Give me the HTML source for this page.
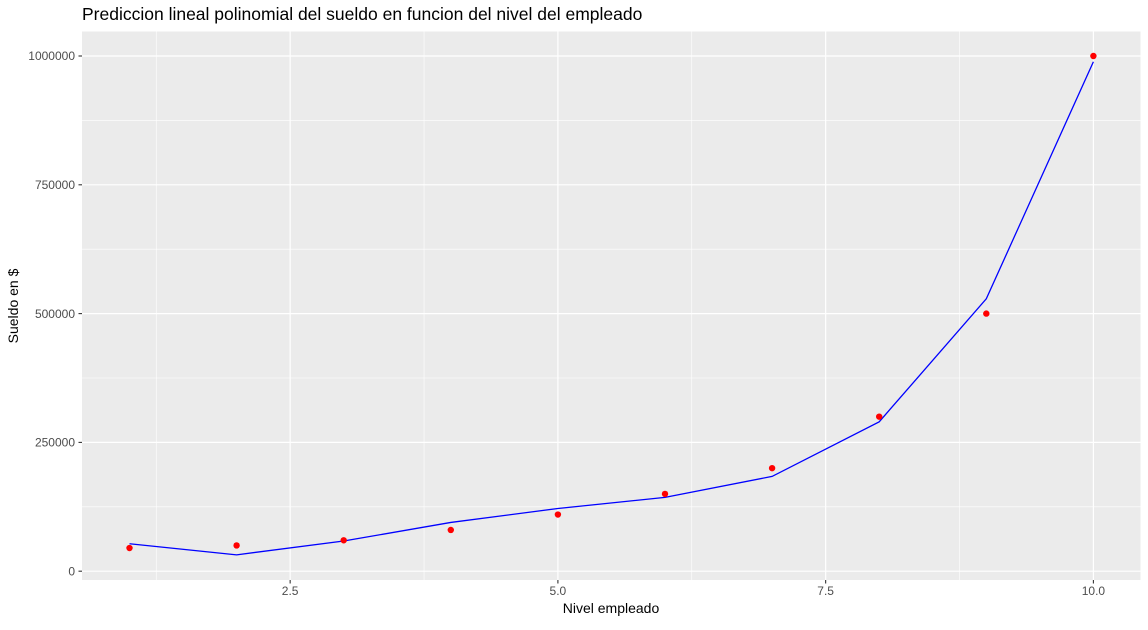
<!DOCTYPE html>
<html><head><meta charset="utf-8"><style>
body{margin:0;background:#fff;width:1148px;height:625px;overflow:hidden;font-family:"Liberation Sans",sans-serif}
</style></head><body>
<svg id="chart" width="1148" height="625" xmlns="http://www.w3.org/2000/svg">
<text x="82" y="20" font-size="17.5" fill="#000">Prediccion lineal polinomial del sueldo en funcion del nivel del empleado</text>
<rect x="82" y="31.5" width="1058.5" height="548.5" fill="#ebebeb"/>
<g id="grid"></g>
<g id="axes"></g>
<g id="marks"></g>
<text x="611" y="613" font-size="14" text-anchor="middle" fill="#000">Nivel empleado</text>
<text transform="translate(18,306) rotate(-90)" font-size="14" text-anchor="middle" fill="#000">Sueldo en $</text>
</svg>
<script>
const levels=[1,2,3,4,5,6,7,8,9,10];
const salaries=[45000,50000,60000,80000,110000,150000,200000,300000,500000,1000000];
const predicted=[53356,31759,58642,94632,121724,143275,184003,289994,528694,988916];
const xTicks=[2.5,5.0,7.5,10.0];
const xTickLabels=["2.5","5.0","7.5","10.0"];
const yTicks=[0,250000,500000,750000,1000000];
const yTickLabels=["0","250000","500000","750000","1000000"];
const ns="http://www.w3.org/2000/svg";
function X(v){return 129.5+(v-1)*107.1;}
function Y(v){return 571.2-v*0.0005152;}
function mk(t,a,p){const e=document.createElementNS(ns,t);for(const k in a)e.setAttribute(k,a[k]);p.appendChild(e);return e;}
const grid=document.getElementById('grid'),axes=document.getElementById('axes'),marks=document.getElementById('marks');
for(let i=0;i<xTicks.length;i++){const m=xTicks[i]-1.25;const l=mk('line',{x1:X(m),x2:X(m),y1:31.5,y2:580,stroke:'#fff','stroke-width':0.6},grid);
}
for(let i=0;i<yTicks.length-1;i++){const m=yTicks[i]+125000;const l=mk('line',{x1:82,x2:1140.5,y1:Y(m),y2:Y(m),stroke:'#fff','stroke-width':0.6},grid);
}
xTicks.forEach((v,i)=>{const l=mk('line',{x1:X(v),x2:X(v),y1:31.5,y2:580,stroke:'#fff','stroke-width':1.2},grid);

const t=mk('line',{x1:X(v),x2:X(v),y1:580,y2:583.5,stroke:'#333','stroke-width':1.1},axes);

const tx=mk('text',{x:X(v),y:595,'font-size':12,'text-anchor':'middle',fill:'#4d4d4d'},axes);tx.textContent=xTickLabels[i];
});
yTicks.forEach((v,i)=>{const l=mk('line',{x1:82,x2:1140.5,y1:Y(v),y2:Y(v),stroke:'#fff','stroke-width':1.2},grid);

const t=mk('line',{x1:78.5,x2:82,y1:Y(v),y2:Y(v),stroke:'#333','stroke-width':1.1},axes);

const tx=mk('text',{x:75,y:Y(v)+4.2,'font-size':12,'text-anchor':'end',fill:'#4d4d4d'},axes);tx.textContent=yTickLabels[i];
});
const pl=mk('polyline',{points:levels.map((v,i)=>X(v)+','+Y(predicted[i])).join(' '),fill:'none',stroke:'#0000ff','stroke-width':1.3},marks);

levels.forEach((v,i)=>{const c=mk('circle',{cx:X(v),cy:Y(salaries[i]),r:3.2,fill:'#ff0000'},marks);
});
</script>
</body></html>
